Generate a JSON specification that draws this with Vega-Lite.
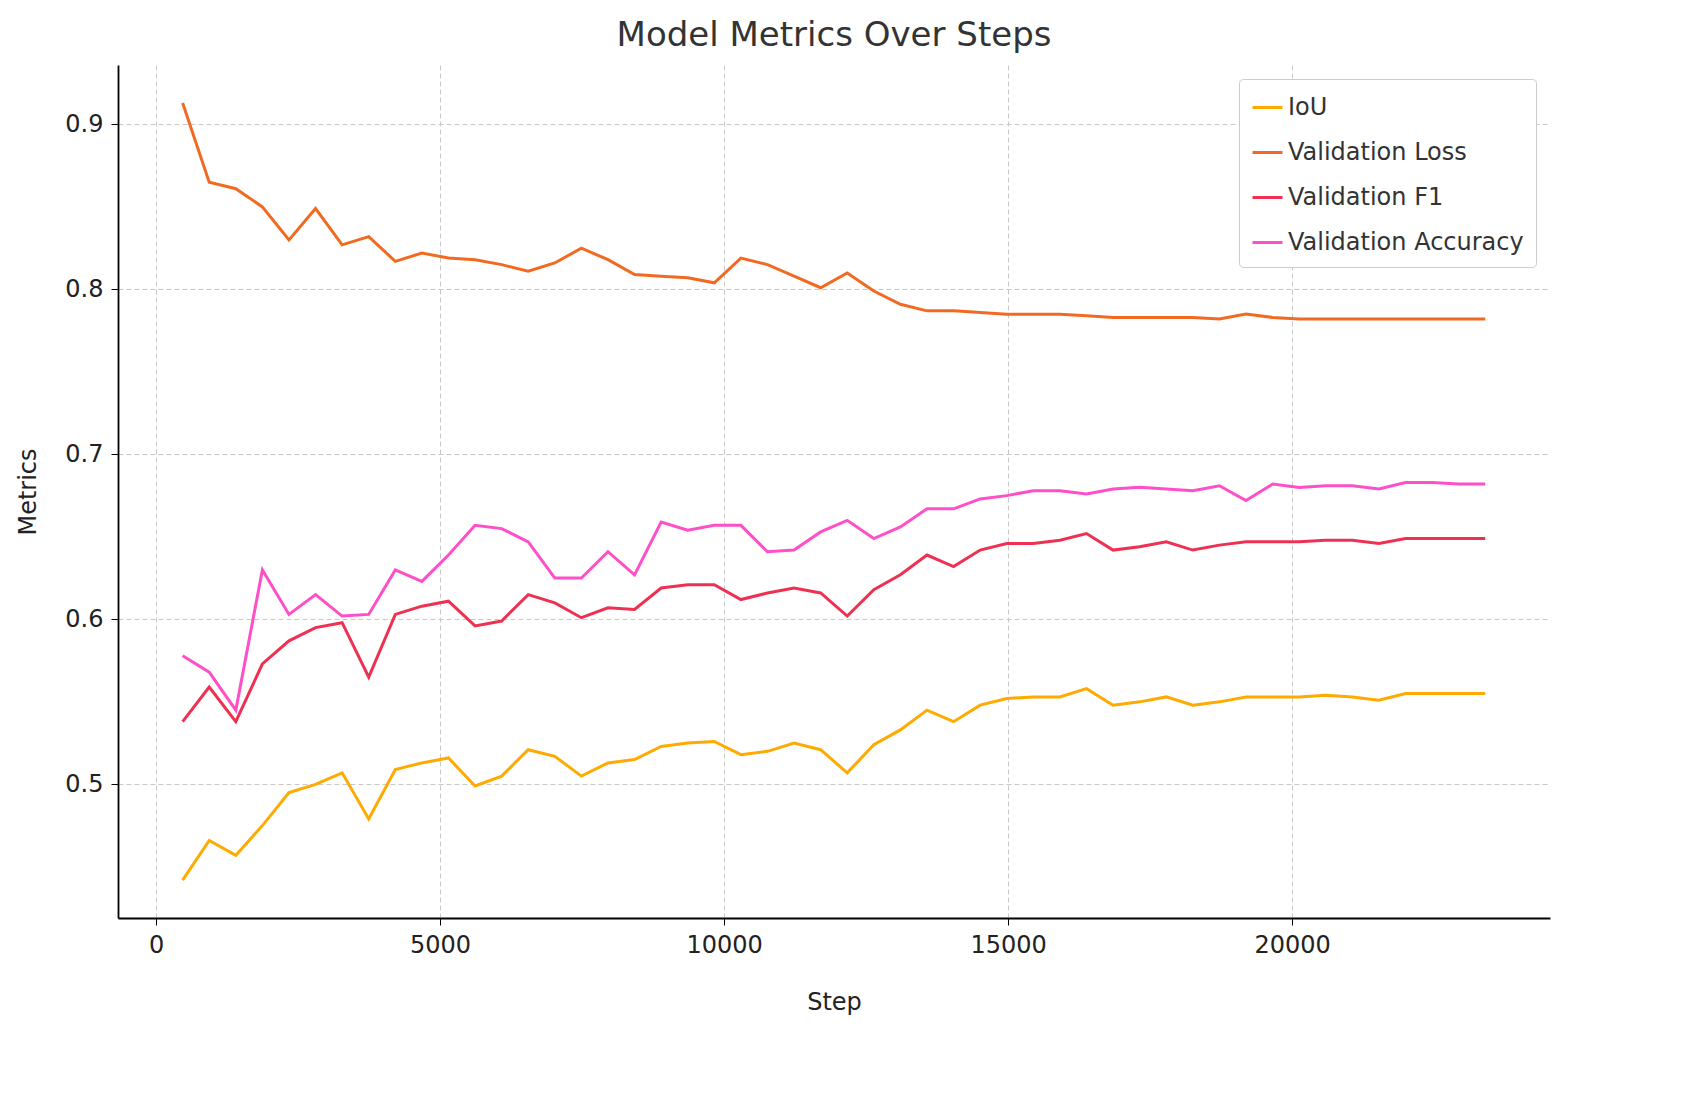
{
  "$schema": "https://vega.github.io/schema/vega-lite/v6.json",
  "width": 1432,
  "height": 853,
  "autosize": {"type": "none"},
  "padding": {"left": 118, "top": 65, "right": 147, "bottom": 183},
  "background": "white",
  "config": {
    "font": "DejaVu Sans",
    "view": {"stroke": null},
    "axis": {"labelFont": "DejaVu Sans", "titleFont": "DejaVu Sans", "labelFontSize": 24, "titleFontSize": 24, "titleFontWeight": "normal", "labelColor": "#222", "titleColor": "#222", "domainColor": "#000", "domainWidth": 1.8, "tickColor": "#000", "tickSize": 7, "gridColor": "#c8c8c8", "gridDash": [5, 3], "gridWidth": 1}
  },
  "title": {"text": "Model Metrics Over Steps", "fontSize": 34, "fontWeight": "normal", "color": "#333", "offset": 12, "font": "DejaVu Sans"},
  "data": {
    "values": [
      {"Step": 468, "IoU": 0.442, "Validation Loss": 0.913, "Validation F1": 0.538, "Validation Accuracy": 0.578},
      {"Step": 936, "IoU": 0.466, "Validation Loss": 0.865, "Validation F1": 0.559, "Validation Accuracy": 0.568},
      {"Step": 1404, "IoU": 0.457, "Validation Loss": 0.861, "Validation F1": 0.538, "Validation Accuracy": 0.545},
      {"Step": 1872, "IoU": 0.475, "Validation Loss": 0.850, "Validation F1": 0.573, "Validation Accuracy": 0.630},
      {"Step": 2340, "IoU": 0.495, "Validation Loss": 0.830, "Validation F1": 0.587, "Validation Accuracy": 0.603},
      {"Step": 2808, "IoU": 0.500, "Validation Loss": 0.849, "Validation F1": 0.595, "Validation Accuracy": 0.615},
      {"Step": 3276, "IoU": 0.507, "Validation Loss": 0.827, "Validation F1": 0.598, "Validation Accuracy": 0.602},
      {"Step": 3744, "IoU": 0.479, "Validation Loss": 0.832, "Validation F1": 0.565, "Validation Accuracy": 0.603},
      {"Step": 4212, "IoU": 0.509, "Validation Loss": 0.817, "Validation F1": 0.603, "Validation Accuracy": 0.630},
      {"Step": 4680, "IoU": 0.513, "Validation Loss": 0.822, "Validation F1": 0.608, "Validation Accuracy": 0.623},
      {"Step": 5148, "IoU": 0.516, "Validation Loss": 0.819, "Validation F1": 0.611, "Validation Accuracy": 0.639},
      {"Step": 5616, "IoU": 0.499, "Validation Loss": 0.818, "Validation F1": 0.596, "Validation Accuracy": 0.657},
      {"Step": 6084, "IoU": 0.505, "Validation Loss": 0.815, "Validation F1": 0.599, "Validation Accuracy": 0.655},
      {"Step": 6552, "IoU": 0.521, "Validation Loss": 0.811, "Validation F1": 0.615, "Validation Accuracy": 0.647},
      {"Step": 7020, "IoU": 0.517, "Validation Loss": 0.816, "Validation F1": 0.610, "Validation Accuracy": 0.625},
      {"Step": 7488, "IoU": 0.505, "Validation Loss": 0.825, "Validation F1": 0.601, "Validation Accuracy": 0.625},
      {"Step": 7956, "IoU": 0.513, "Validation Loss": 0.818, "Validation F1": 0.607, "Validation Accuracy": 0.641},
      {"Step": 8424, "IoU": 0.515, "Validation Loss": 0.809, "Validation F1": 0.606, "Validation Accuracy": 0.627},
      {"Step": 8892, "IoU": 0.523, "Validation Loss": 0.808, "Validation F1": 0.619, "Validation Accuracy": 0.659},
      {"Step": 9360, "IoU": 0.525, "Validation Loss": 0.807, "Validation F1": 0.621, "Validation Accuracy": 0.654},
      {"Step": 9828, "IoU": 0.526, "Validation Loss": 0.804, "Validation F1": 0.621, "Validation Accuracy": 0.657},
      {"Step": 10296, "IoU": 0.518, "Validation Loss": 0.819, "Validation F1": 0.612, "Validation Accuracy": 0.657},
      {"Step": 10764, "IoU": 0.520, "Validation Loss": 0.815, "Validation F1": 0.616, "Validation Accuracy": 0.641},
      {"Step": 11232, "IoU": 0.525, "Validation Loss": 0.808, "Validation F1": 0.619, "Validation Accuracy": 0.642},
      {"Step": 11700, "IoU": 0.521, "Validation Loss": 0.801, "Validation F1": 0.616, "Validation Accuracy": 0.653},
      {"Step": 12168, "IoU": 0.507, "Validation Loss": 0.810, "Validation F1": 0.602, "Validation Accuracy": 0.660},
      {"Step": 12636, "IoU": 0.524, "Validation Loss": 0.799, "Validation F1": 0.618, "Validation Accuracy": 0.649},
      {"Step": 13104, "IoU": 0.533, "Validation Loss": 0.791, "Validation F1": 0.627, "Validation Accuracy": 0.656},
      {"Step": 13572, "IoU": 0.545, "Validation Loss": 0.787, "Validation F1": 0.639, "Validation Accuracy": 0.667},
      {"Step": 14040, "IoU": 0.538, "Validation Loss": 0.787, "Validation F1": 0.632, "Validation Accuracy": 0.667},
      {"Step": 14508, "IoU": 0.548, "Validation Loss": 0.786, "Validation F1": 0.642, "Validation Accuracy": 0.673},
      {"Step": 14976, "IoU": 0.552, "Validation Loss": 0.785, "Validation F1": 0.646, "Validation Accuracy": 0.675},
      {"Step": 15444, "IoU": 0.553, "Validation Loss": 0.785, "Validation F1": 0.646, "Validation Accuracy": 0.678},
      {"Step": 15912, "IoU": 0.553, "Validation Loss": 0.785, "Validation F1": 0.648, "Validation Accuracy": 0.678},
      {"Step": 16380, "IoU": 0.558, "Validation Loss": 0.784, "Validation F1": 0.652, "Validation Accuracy": 0.676},
      {"Step": 16848, "IoU": 0.548, "Validation Loss": 0.783, "Validation F1": 0.642, "Validation Accuracy": 0.679},
      {"Step": 17316, "IoU": 0.550, "Validation Loss": 0.783, "Validation F1": 0.644, "Validation Accuracy": 0.680},
      {"Step": 17784, "IoU": 0.553, "Validation Loss": 0.783, "Validation F1": 0.647, "Validation Accuracy": 0.679},
      {"Step": 18252, "IoU": 0.548, "Validation Loss": 0.783, "Validation F1": 0.642, "Validation Accuracy": 0.678},
      {"Step": 18720, "IoU": 0.550, "Validation Loss": 0.782, "Validation F1": 0.645, "Validation Accuracy": 0.681},
      {"Step": 19188, "IoU": 0.553, "Validation Loss": 0.785, "Validation F1": 0.647, "Validation Accuracy": 0.672},
      {"Step": 19656, "IoU": 0.553, "Validation Loss": 0.783, "Validation F1": 0.647, "Validation Accuracy": 0.682},
      {"Step": 20124, "IoU": 0.553, "Validation Loss": 0.782, "Validation F1": 0.647, "Validation Accuracy": 0.680},
      {"Step": 20592, "IoU": 0.554, "Validation Loss": 0.782, "Validation F1": 0.648, "Validation Accuracy": 0.681},
      {"Step": 21060, "IoU": 0.553, "Validation Loss": 0.782, "Validation F1": 0.648, "Validation Accuracy": 0.681},
      {"Step": 21528, "IoU": 0.551, "Validation Loss": 0.782, "Validation F1": 0.646, "Validation Accuracy": 0.679},
      {"Step": 21996, "IoU": 0.555, "Validation Loss": 0.782, "Validation F1": 0.649, "Validation Accuracy": 0.683},
      {"Step": 22464, "IoU": 0.555, "Validation Loss": 0.782, "Validation F1": 0.649, "Validation Accuracy": 0.683},
      {"Step": 22932, "IoU": 0.555, "Validation Loss": 0.782, "Validation F1": 0.649, "Validation Accuracy": 0.682},
      {"Step": 23400, "IoU": 0.555, "Validation Loss": 0.782, "Validation F1": 0.649, "Validation Accuracy": 0.682}
    ]
  },
  "transform": [
    {"fold": ["IoU", "Validation Loss", "Validation F1", "Validation Accuracy"], "as": ["Metric", "value"]}
  ],
  "mark": {"type": "line", "strokeWidth": 3},
  "encoding": {
    "x": {"field": "Step", "type": "quantitative", "title": "Step",
      "scale": {"domain": [-670, 24540], "nice": false, "zero": false},
      "axis": {"values": [0, 5000, 10000, 15000, 20000], "format": "d", "grid": true, "labelPadding": 8, "titleY": 72}},
    "y": {"field": "value", "type": "quantitative", "title": "Metrics",
      "scale": {"domain": [0.419, 0.936], "nice": false, "zero": false},
      "axis": {"values": [0.5, 0.6, 0.7, 0.8, 0.9], "format": ".1f", "grid": true, "labelPadding": 8, "titleX": -78}},
    "color": {"field": "Metric", "type": "nominal",
      "scale": {"domain": ["IoU", "Validation Loss", "Validation F1", "Validation Accuracy"], "range": ["#FFAA00", "#F26A21", "#EE3152", "#FF4FC8"]},
      "legend": {"title": null, "orient": "top-right", "offset": 14, "labelFontSize": 24, "labelFont": "DejaVu Sans", "labelColor": "#333", "labelLimit": 400, "symbolType": "stroke", "symbolStrokeWidth": 3, "symbolSize": 900, "rowPadding": 16, "strokeColor": "#ccc", "padding": 12, "cornerRadius": 4, "fillColor": "white"}}
  }
}
